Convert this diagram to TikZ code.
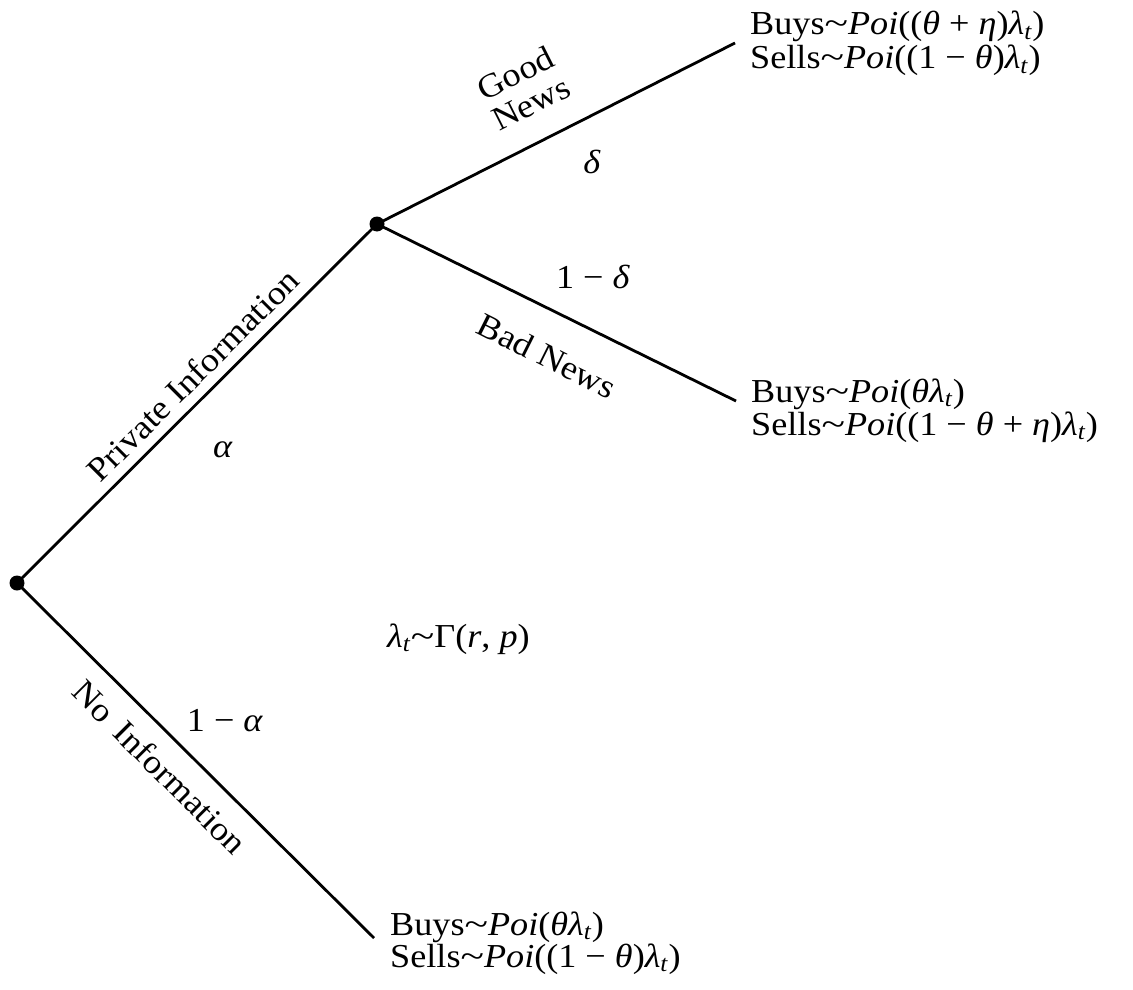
\documentclass[tikz,border=0pt]{standalone}
\usepackage{fontspec}
\usepackage{graphicx}
\setmainfont{Liberation Serif}[FakeStretch=1.08]
\newcommand\subt{\textsubscript{\textit{t}}}
\newcommand\lamt{\textit{λ}\subt}
\newcommand\bop[1]{\hspace{0.27em}#1\hspace{0.27em}}
\newcommand\tld{\scalebox{1.2}[1]{\char"7E}}
\begin{document}
\begin{tikzpicture}[x=1pt,y=-1pt,
  every node/.style={font=\fontsize{33.5}{34}\selectfont, inner sep=0pt},
  edge/.style={line width=2.8pt},
  dot/.style={circle, fill=black, minimum size=15pt, inner sep=0pt},
  term/.style={anchor=base west}]
\useasboundingbox (0,0) rectangle (1133,990);
% tree nodes
\node[dot] (root) at (17,583) {};
\node[dot] (mid) at (377,224) {};
\coordinate (goodend) at (735,43);
\coordinate (badend) at (736,401);
\coordinate (noend) at (374,938);
% connectors
\draw[edge] (root.center) -- (mid.center);
\draw[edge] (root.center) -- (noend);
\draw[edge] (mid.center) -- (goodend);
\draw[edge] (mid.center) -- (badend);
% terminal texts
\node[term] (goodtxt) at (750,35) {\begin{tabular}[t]{@{}l@{}}Buys\tld\textit{Poi}((\textit{θ}\bop{+}\textit{η})\lamt)\\[-0.5pt] Sells\tld\textit{Poi}((1\bop{−}\textit{θ})\lamt)\end{tabular}};
\node[term] (badtxt) at (751,402) {\begin{tabular}[t]{@{}l@{}}Buys\tld\textit{Poi}(\textit{θ}\lamt)\\[-1pt] Sells\tld\textit{Poi}((1\bop{−}\textit{θ}\bop{+}\textit{η})\lamt)\end{tabular}};
\node[term] (notxt) at (390,935) {\begin{tabular}[t]{@{}l@{}}Buys\tld\textit{Poi}(\textit{θ}\lamt)\\[-2pt] Sells\tld\textit{Poi}((1\bop{−}\textit{θ})\lamt)\end{tabular}};
% branch labels
\node[rotate=26.8, align=center] (goodlab) at (523,88) {Good\\News};
\node (deltalab) at (592,162) {\textit{δ}};
\node (omdlab) at (593,277) {1\bop{−}\textit{δ}};
\node[rotate=-26.6] (badlab) at (547,356) {Bad News};
\node[rotate=45] (privlab) at (193,375) {Private Information};
\node (alphalab) at (223,450) {\textit{α}};
\node[rotate=-45] (nolab) at (160,767) {No\hspace{0.4em}Information};
\node (omalab) at (225,721) {1\bop{−}\textit{α}};
\node[anchor=base west] (gammalab) at (387,647) {\lamt\tld Γ(\textit{r}, \textit{p})};
\end{tikzpicture}
\end{document}
